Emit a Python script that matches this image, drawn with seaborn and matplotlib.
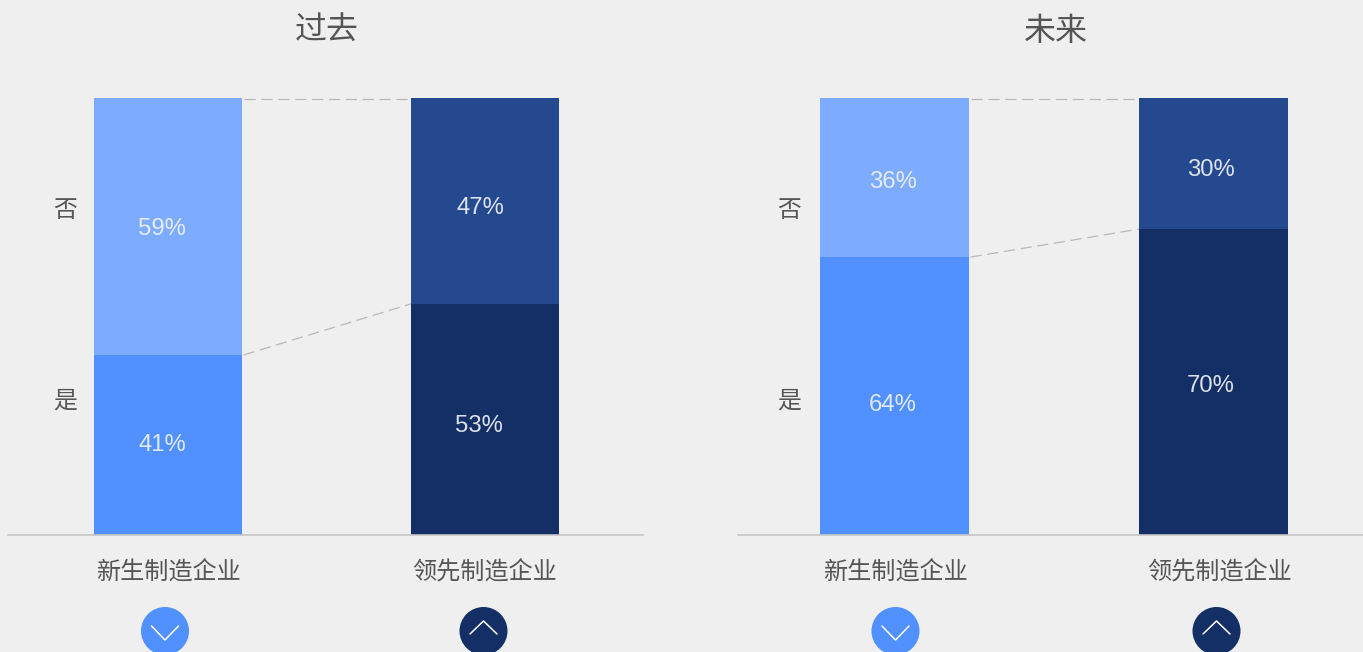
import matplotlib
matplotlib.use('Agg')
import matplotlib.pyplot as plt
from matplotlib.patches import Circle
from matplotlib.transforms import ScaledTranslation
import pandas as pd
import seaborn as sns

# ================= DATA =================
titles = ['过去', '未来']
categories = ['新生制造企业', '领先制造企业']
answers = ['否', '是']
# bar heights, labels round them
yes_past = [41.2, 52.9]
yes_future = [63.6, 70]
no_past = [58.8, 47.1]
no_future = [36.4, 30]

# ================= CONFIG =================
W, H = 1363, 652
BG = '#efefef'
COL_NO = ['#7dacff', '#24498f']
COL_YES = ['#5090ff', '#142e66']
GREY = '#555555'
CN_FONT = ['Noto Sans CJK SC', 'DejaVu Sans']

sns.set_theme(style='white')
plt.rcParams['font.family'] = CN_FONT

fig = plt.figure(figsize=(W / 100, H / 100), dpi=100, facecolor=BG)


def add_px_axes(x0, x1, y_top, y_bottom):
    return fig.add_axes([x0 / W, 1 - y_bottom / H, (x1 - x0) / W, (y_bottom - y_top) / H])


# overlay in pixel coordinates for titles and icons
over = fig.add_axes([0, 0, 1, 1], zorder=5)
over.set_xlim(0, W)
over.set_ylim(H, 0)
over.axis('off')


def draw_panel(box, centers, bar_px, title, title_x, side_x, yes, no, label_pos, tick_shift):
    x0, x1 = box
    ax = add_px_axes(x0, x1, 98, 535)
    ax.set_facecolor('none')
    gap = centers[1] - centers[0]
    width = bar_px / gap
    df = pd.DataFrame({'cat': categories, 'yes': yes, 'no': no})
    df['total'] = df['yes'] + df['no']

    sns.barplot(data=df, x='cat', y='total', hue='cat', palette=COL_NO, width=width,
                saturation=1, legend=False, ax=ax, linewidth=0, clip_on=False)
    sns.barplot(data=df, x='cat', y='yes', hue='cat', palette=COL_YES, width=width,
                saturation=1, legend=False, ax=ax, linewidth=0)

    ax.set_xlim((x0 - centers[0]) / gap, (x1 - centers[0]) / gap)
    ax.set_ylim(0, 100)
    ax.set_xlabel('')
    ax.set_ylabel('')
    ax.set_yticks([])
    sns.despine(ax=ax, left=True)
    ax.spines['bottom'].set_color('#c6c6c6')
    ax.spines['bottom'].set_linewidth(1.2)
    ax.tick_params(axis='x', length=0, pad=18)
    ax.set_xticks([0, 1])
    ax.set_xticklabels(categories, fontsize=17.4, color=GREY, fontweight='light')
    for lab, dx in zip(ax.get_xticklabels(), tick_shift):
        lab.set_transform(lab.get_transform() + ScaledTranslation(dx / 100, 0, fig.dpi_scale_trans))

    # dashed connectors between the two bars
    x_a, x_b = width / 2 + 0.005, 1 - width / 2
    dash = dict(color='#b8b8b8', lw=0.9, dashes=(9, 4.5))
    ax.plot([x_a, x_b], [yes[0] + no[0] - 0.3, yes[1] + no[1] - 0.3], **dash)
    ax.plot([x_a, x_b], [yes[0], yes[1]], **dash)

    # percent labels
    for (px, py), val in zip(label_pos, [no[0], yes[0], no[1], yes[1]]):
        over.text(px, py + 2, f'{val:.0f}%', ha='center', va='center', color='#eef1f6', alpha=0.92,
                  fontsize=17.2, family=['Liberation Sans', 'DejaVu Sans'])

    over.text(title_x, 40, title, ha='center', va='baseline', fontsize=23, color=GREY, fontweight='light')
    for ans, py in zip(answers, [217, 408]):
        over.text(side_x, py, ans, ha='center', va='baseline', fontsize=17.2, color=GREY, fontweight='light')


def draw_icon(cx, color, up):
    over.add_patch(Circle((cx, 631), 24, color=color, lw=0, clip_on=True))
    if up:
        xs, ys = [cx - 13.5, cx, cx + 13.5], [634, 621, 634]
    else:
        xs, ys = [cx - 13.5, cx, cx + 13.5], [626, 640, 626]
    over.plot(xs, ys, color='white', lw=1.1, solid_capstyle='round')


draw_panel((8.5, 643), (168, 485), 148, titles[0], 327, 65, yes_past, no_past,
           [(162, 227), (162, 443), (480, 206), (479, 424)], (0, 0))
draw_panel((737.5, 1363), (894.5, 1213.5), 149, titles[1], 1056, 789, yes_future, no_future,
           [(893, 180), (893, 403), (1210.5, 168), (1210.5, 384)], (1, 6))

for cx, color, up in [(165, COL_YES[0], False), (483.5, COL_YES[1], True),
                      (895.5, COL_YES[0], False), (1216.5, COL_YES[1], True)]:
    draw_icon(cx, color, up)

fig.savefig('out.png', dpi=100, facecolor=BG)
